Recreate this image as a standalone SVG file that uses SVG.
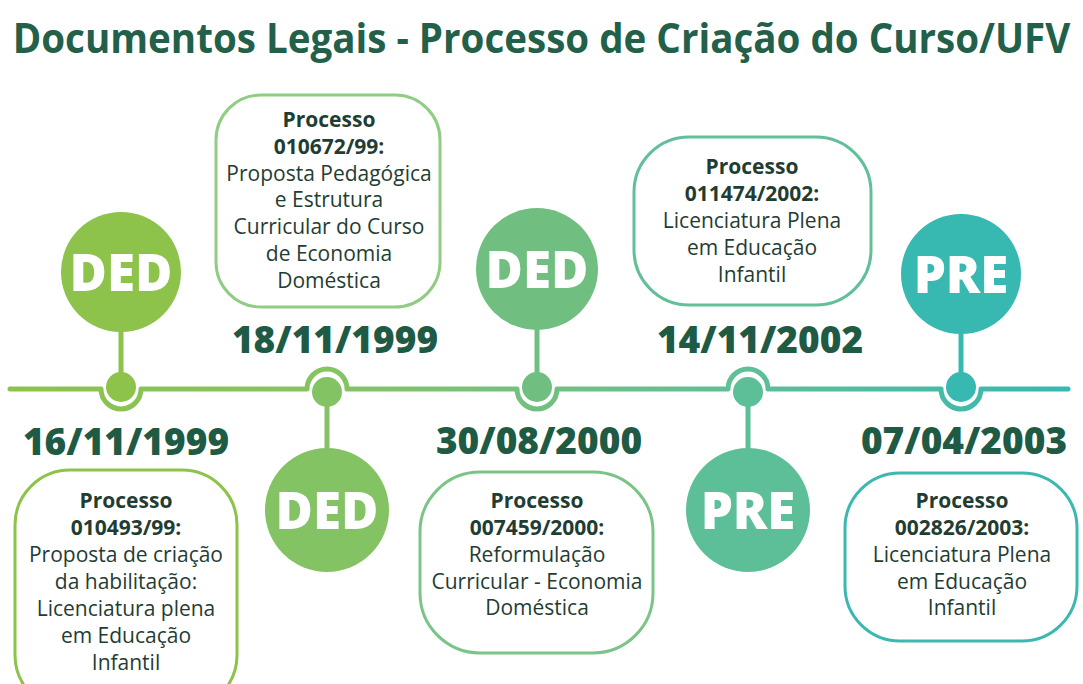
<svg xmlns="http://www.w3.org/2000/svg" width="1083" height="684" viewBox="0 0 1083 684">
<defs>
<linearGradient id="lg" gradientUnits="userSpaceOnUse" x1="10" y1="0" x2="1068" y2="0">
<stop offset="0" stop-color="#8dc24b"/>
<stop offset="0.3" stop-color="#86c462"/>
<stop offset="0.5" stop-color="#72c080"/>
<stop offset="0.7" stop-color="#5ebf97"/>
<stop offset="1" stop-color="#36b8b1"/>
</linearGradient>
<style>
.title{font-family:"Open Sans","Noto Sans",sans-serif;font-weight:700;font-size:42px;fill:#23604a;text-anchor:middle}
.date{font-family:"Open Sans","Noto Sans",sans-serif;font-weight:800;font-size:37px;fill:#1f5a44;text-anchor:middle}
.lab{font-family:"Open Sans","Noto Sans",sans-serif;font-weight:800;font-size:51px;fill:#ffffff;text-anchor:middle}
.bt{font-family:"Open Sans","Noto Sans",sans-serif;font-size:21px;fill:#1f3d33;text-anchor:middle}
.b{font-weight:700}
.box{fill:#ffffff;stroke-width:3}
.ln{fill:none;stroke:url(#lg);stroke-width:5;stroke-linejoin:round;stroke-linecap:round}
</style>
</defs>
<rect width="1083" height="684" fill="#ffffff"/>
<text class="title" transform="translate(541.5,53) scale(0.918,1)" x="0" y="0">Documentos Legais - Processo de Criação do Curso/UFV</text>

<g id="connectors">
<path class="ln" d="M10,389 H101 A20,20 0 0 0 141,389 H307 A20,20 0 0 1 347,389 H517 A20,20 0 0 0 557,389 H728 A20,20 0 0 1 768,389 H941 A20,20 0 0 0 981,389 H1068"/>
<line x1="121" y1="330" x2="121" y2="387" stroke="#8dc24b" stroke-width="5"/>
<circle cx="121" cy="387" r="15" fill="#8dc24b"/>
<line x1="327" y1="392" x2="327" y2="452" stroke="#84c363" stroke-width="5"/>
<circle cx="327" cy="392" r="15" fill="#84c363"/>
<line x1="537" y1="328" x2="537" y2="387" stroke="#71bf80" stroke-width="5"/>
<circle cx="537" cy="387" r="15" fill="#71bf80"/>
<line x1="748" y1="392" x2="748" y2="452" stroke="#5dbf98" stroke-width="5"/>
<circle cx="748" cy="392" r="15" fill="#5dbf98"/>
<line x1="961" y1="330" x2="961" y2="387" stroke="#37b8b1" stroke-width="5"/>
<circle cx="961" cy="387" r="15" fill="#37b8b1"/>
</g>

<g id="node1">
<circle cx="121" cy="272" r="60" fill="#8dc24b"/>
<text class="lab" x="121" y="291">DED</text>
<text class="date" x="126" y="455">16/11/1999</text>
<rect class="box" x="15" y="470" width="222" height="240" rx="55" stroke="#8dc24b"/>
<text class="bt"><tspan class="b" x="126" y="508">Processo</tspan><tspan class="b" x="126" y="535">010493/99:</tspan><tspan x="126" y="562">Proposta de criação</tspan><tspan x="126" y="589">da habilitação:</tspan><tspan x="126" y="616">Licenciatura plena</tspan><tspan x="126" y="643">em Educação</tspan><tspan x="126" y="670">Infantil</tspan></text>
</g>

<g id="node2">
<circle cx="327" cy="510" r="62" fill="#84c363"/>
<text class="lab" x="327" y="529">DED</text>
<text class="date" x="335" y="353">18/11/1999</text>
<rect class="box" x="216" y="95" width="224" height="212" rx="45" stroke="#91cc84"/>
<text class="bt"><tspan class="b" x="329" y="127">Processo</tspan><tspan class="b" x="329" y="154">010672/99:</tspan><tspan x="329" y="181">Proposta Pedagógica</tspan><tspan x="329" y="207">e Estrutura</tspan><tspan x="329" y="234">Curricular do Curso</tspan><tspan x="329" y="261">de Economia</tspan><tspan x="329" y="288">Doméstica</tspan></text>
</g>

<g id="node3">
<circle cx="537" cy="269" r="61" fill="#71bf80"/>
<text class="lab" x="537" y="288">DED</text>
<text class="date" x="539" y="454">30/08/2000</text>
<rect class="box" x="420" y="472" width="233" height="181" rx="60" stroke="#7ac487"/>
<text class="bt"><tspan class="b" x="537" y="508">Processo</tspan><tspan class="b" x="537" y="535">007459/2000:</tspan><tspan x="537" y="562">Reformulação</tspan><tspan x="537" y="589">Curricular - Economia</tspan><tspan x="537" y="615">Doméstica</tspan></text>
</g>

<g id="node4">
<circle cx="748" cy="510" r="62" fill="#5dbf98"/>
<text class="lab" x="748" y="529">PRE</text>
<text class="date" x="760" y="353">14/11/2002</text>
<rect class="box" x="634" y="137" width="237" height="168" rx="55" stroke="#62bf98"/>
<text class="bt"><tspan class="b" x="752" y="174">Processo</tspan><tspan class="b" x="752" y="201">011474/2002:</tspan><tspan x="752" y="228">Licenciatura Plena</tspan><tspan x="752" y="255">em Educação</tspan><tspan x="752" y="282">Infantil</tspan></text>
</g>

<g id="node5">
<circle cx="961" cy="274" r="60" fill="#37b8b1"/>
<text class="lab" x="961" y="293">PRE</text>
<text class="date" x="964" y="454">07/04/2003</text>
<rect class="box" x="845" y="473" width="232" height="168" rx="55" stroke="#3db8b0"/>
<text class="bt"><tspan class="b" x="962" y="508">Processo</tspan><tspan class="b" x="962" y="535">002826/2003:</tspan><tspan x="962" y="562">Licenciatura Plena</tspan><tspan x="962" y="589">em Educação</tspan><tspan x="962" y="615">Infantil</tspan></text>
</g>
</svg>
